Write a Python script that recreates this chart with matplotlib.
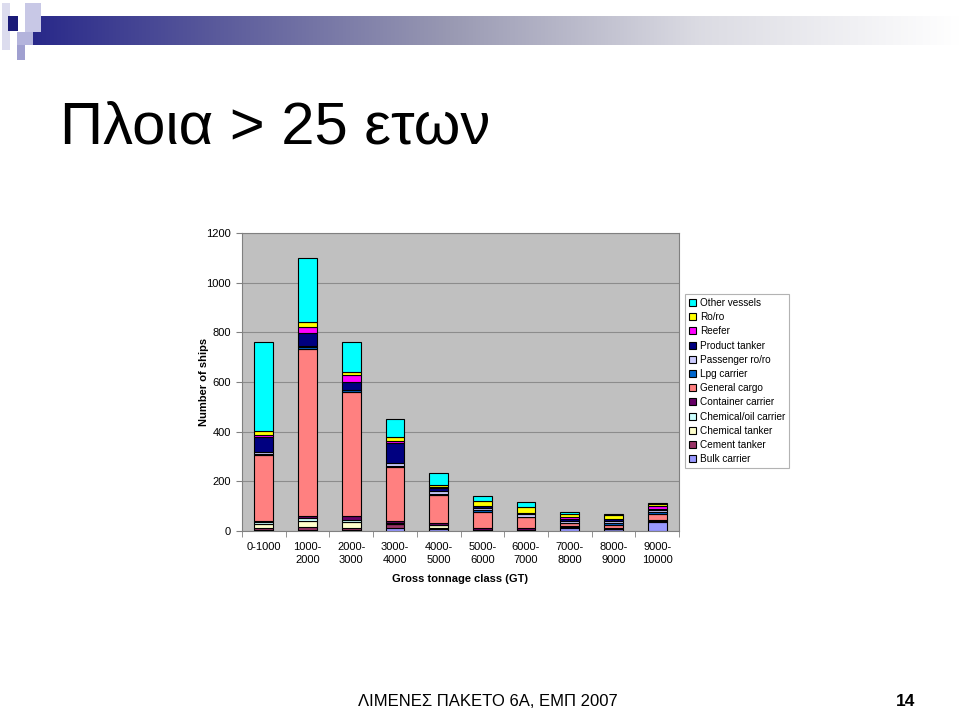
import numpy as np
import matplotlib
matplotlib.use("Agg")
import matplotlib.pyplot as plt
from matplotlib.patches import Rectangle

plt.rcParams['font.family'] = ['Liberation Sans', 'DejaVu Sans']

# tonnage classes (x axis)
classes = ['0-1000', '1000-\n2000', '2000-\n3000', '3000-\n4000', '4000-\n5000',
           '5000-\n6000', '6000-\n7000', '7000-\n8000', '8000-\n9000', '9000-\n10000']

# ship types, bottom of the stack first
ship_types = ['Bulk carrier', 'Cement tanker', 'Chemical tanker', 'Chemical/oil carrier',
              'Container carrier', 'General cargo', 'Lpg carrier', 'Passenger ro/ro',
              'Product tanker', 'Reefer', 'Ro/ro', 'Other vessels']

bulk_carrier = [3, 4, 5, 14, 10, 3, 2, 12, 7, 37]
cement_tanker = [10, 12, 8, 13, 3, 2, 2, 3, 2, 2]
chemical_tanker = [14, 23, 24, 2, 10, 0, 0, 0, 0, 0]
chemical_oil = [8, 12, 8, 2, 3, 0, 0, 0, 0, 0]
container_carrier = [4, 10, 14, 10, 7, 9, 7, 5, 4, 5]
general_cargo = [268, 671, 502, 216, 112, 64, 47, 11, 13, 24]
lpg_carrier = [3, 10, 6, 5, 5, 5, 0, 3, 5, 8]
passenger_roro = [8, 4, 2, 11, 11, 8, 9, 7, 11, 7]
product_tanker = [62, 53, 29, 80, 13, 8, 7, 9, 7, 7]
reefer = [7, 24, 31, 9, 2, 3, 0, 7, 0, 9]
roro = [14, 20, 13, 17, 8, 18, 24, 12, 16, 9]
other_vessels = [360, 257, 120, 72, 50, 22, 20, 9, 2, 6]

series = [bulk_carrier, cement_tanker, chemical_tanker, chemical_oil, container_carrier,
          general_cargo, lpg_carrier, passenger_roro, product_tanker, reefer, roro,
          other_vessels]
colors = ['#9999FF', '#993366', '#FFFFCC', '#CCFFFF', '#660066', '#FF8080',
          '#0066CC', '#CCCCFF', '#000080', '#FF00FF', '#FFFF00', '#00FFFF']

fig = plt.figure(figsize=(9.6, 7.12), dpi=100)
fig.patch.set_facecolor('white')

# header decoration: gradient band + small squares
band = fig.add_axes([33 / 960, 1 - 45 / 712, 1 - 33 / 960, 29 / 712])
t = np.linspace(0, 1, 400)
stops = [0.0, 0.45, 0.72, 1.0]
stop_cols = np.array([[0.16, 0.16, 0.54], [0.60, 0.60, 0.70], [0.86, 0.86, 0.89], [1.0, 1.0, 1.0]])
img = np.stack([np.interp(t, stops, stop_cols[:, k]) for k in range(3)], axis=-1)[None, :, :]
band.imshow(img, aspect='auto', extent=[0, 1, 0, 1])
band.axis('off')

squares = [(2, 3, 8, 47, '#DCDCEE'), (25, 3, 16, 29, '#C8C8E6'), (8, 16, 10, 15, '#1A1A78'),
           (17, 32, 16, 13, '#B4B4DC'), (17, 45, 8, 15, '#A0A0D0')]
for x0, y0, w, h, col in squares:
    fig.patches.append(Rectangle((x0 / 960, 1 - (y0 + h) / 712), w / 960, h / 712,
                                 transform=fig.transFigure, facecolor=col,
                                 edgecolor='none', zorder=3))

fig.text(60 / 960, 1 - 128 / 712, 'Πλοια > 25 ετων', fontsize=43, va='center', ha='left')

ax = fig.add_axes([242 / 960, 1 - 531 / 712, 437 / 960, 298 / 712])
ax.set_facecolor('#C0C0C0')
x = np.arange(len(classes))
bottom = np.zeros(len(classes))
bars = []
for vals, col, name in zip(series, colors, ship_types):
    b = ax.bar(x, vals, width=0.43, bottom=bottom, color=col, edgecolor='black',
               linewidth=0.8, label=name, zorder=3)
    bars.append(b)
    bottom += np.array(vals)

ax.set_xlim(-0.5, 9.5)
ax.set_ylim(0, 1200)
ax.set_yticks(range(0, 1201, 200))
ax.yaxis.grid(True, color='#8C8C8C', linewidth=0.8, zorder=0)
ax.set_xticks(x)
ax.set_xticklabels(classes, fontsize=8, linespacing=1.3)
ax.set_xticks(np.arange(-0.5, 10, 1), minor=True)
ax.tick_params(axis='x', which='major', length=0, pad=8)
ax.tick_params(axis='x', which='minor', length=4, color='#808080')
ax.tick_params(axis='y', length=4, color='#808080', labelsize=8, pad=4)
for s in ax.spines.values():
    s.set_color('#808080')
    s.set_linewidth(0.8)

ax.set_ylabel('Number of ships', fontsize=8, fontweight='bold')
ax.yaxis.set_label_coords(-33 / 437, 0.5)
ax.set_xlabel('Gross tonnage class (GT)', fontsize=8, fontweight='bold', labelpad=6.5)

handles = [b[0] for b in bars][::-1]
labels = ship_types[::-1]
leg = fig.legend(handles, labels, loc='upper left', bbox_to_anchor=(685 / 960, 1 - 294 / 712),
                 fontsize=7.2, frameon=True, fancybox=False, handlelength=0.7,
                 handleheight=0.7, handletextpad=0.4, labelspacing=0.42, borderpad=0.4,
                 borderaxespad=0)
leg.get_frame().set_edgecolor('#A0A0A0')
leg.get_frame().set_linewidth(0.8)

fig.text(488 / 960, 1 - 701 / 712, 'ΛΙΜΕΝΕΣ ΠΑΚΕΤΟ 6Α, ΕΜΠ 2007', fontsize=12,
         ha='center', va='center')
fig.text(915 / 960, 1 - 701 / 712, '14', fontsize=12.5, fontweight='bold',
         ha='right', va='center')

fig.savefig('out.png', dpi=100)
